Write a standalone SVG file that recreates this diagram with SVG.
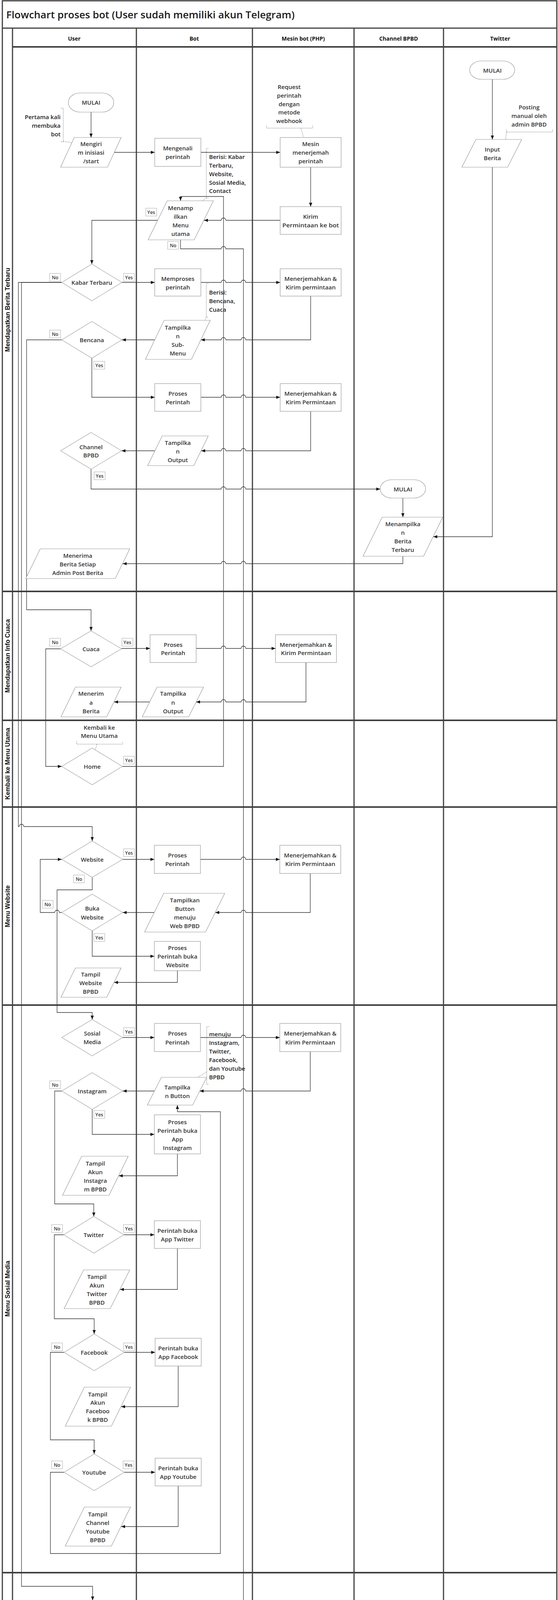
<svg xmlns="http://www.w3.org/2000/svg" width="1428" height="4695" viewBox="0 0 1428 4695">
<style>
.lane{fill:none;stroke:#404040;stroke-width:3}
.sep{fill:none;stroke:#404040;stroke-width:4}
.node{fill:#fff;stroke:#999;stroke-width:1.2}
.dia{fill:#fff;stroke:#a6a6a6;stroke-width:1.2}
.t{font-family:"Open Sans","Liberation Sans",sans-serif;font-weight:600;font-size:15px;fill:#333;text-anchor:middle;dominant-baseline:central}
.ta{font-family:"Open Sans","Liberation Sans",sans-serif;font-weight:600;font-size:15px;fill:#222;text-anchor:start;dominant-baseline:central}
.tr{font-family:"Open Sans","Liberation Sans",sans-serif;font-weight:600;font-size:15px;fill:#222;text-anchor:end;dominant-baseline:central}
.hd{font-family:"Open Sans","Liberation Sans",sans-serif;font-weight:700;font-size:14px;fill:#111;text-anchor:middle;dominant-baseline:central}
.lt{font-family:"Liberation Sans",Arial,sans-serif;font-weight:700;font-size:16px;fill:#111;text-anchor:middle;dominant-baseline:central}
.ann{fill:none;stroke:#555;stroke-width:1;stroke-dasharray:2 2}
.conn{fill:none;stroke:#333;stroke-width:1.3;marker-end:url(#arr)}
.lb{fill:#fff;stroke:#aaa;stroke-width:1}
.ls{font-family:"Open Sans","Liberation Sans",sans-serif;font-weight:600;font-size:12px;fill:#333;text-anchor:middle;dominant-baseline:central}
</style>
<defs>
<marker id="arr" markerUnits="userSpaceOnUse" markerWidth="11" markerHeight="9" refX="10" refY="4" orient="auto">
<path d="M0,0 L10,4 L0,8 z" fill="#111"/>
</marker>
</defs>
<rect x="0" y="0" width="1428" height="4695" fill="#fff"/>

<g id="swimlanes">
<rect class="lane" x="6" y="2" width="1419" height="4689"/>
<path class="lane" d="M6,72 H1425"/>
<path class="lane" d="M32,72 V4691 M349,72 V4691 M646,72 V4691 M906,72 V4691 M1135,72 V4691"/>
<path class="sep" d="M32,120 H1425 M6,1514 H1425 M6,1844 H1425 M6,2066 H1425 M6,2573 H1425 M6,4026 H1425 M6,4582 H1425"/>
<text x="16" y="47" font-family="'Open Sans','Liberation Sans',sans-serif" font-weight="600" font-size="26" fill="#1a1a1a">Flowchart proses bot (User sudah memiliki akun Telegram)</text>
<text class="hd" x="190" y="98">User</text>
<text class="hd" x="497" y="98">Bot</text>
<text class="hd" x="776" y="98">Mesin bot (PHP)</text>
<text class="hd" x="1020" y="98">Channel BPBD</text>
<text class="hd" x="1280" y="98">Twitter</text>
<text class="lt" transform="translate(19,793) rotate(-90)">Mendapatkan Berita Terbaru</text>
<text class="lt" transform="translate(19,1679) rotate(-90)">Mendapatkan Info Cuaca</text>
<text class="lt" transform="translate(19,1955) rotate(-90)">Kembali ke Menu Utama</text>
<text class="lt" transform="translate(19,2320) rotate(-90)">Menu Website</text>
<text class="lt" transform="translate(19,3299) rotate(-90)">Menu Sosial Media</text>
<text class="lt" transform="translate(19,4304) rotate(-90)">Menu Contact</text>
<text class="lt" transform="translate(19,4636) rotate(-90)">Selesai</text>
</g>

<g id="connectors">
<path class="conn" d="M233,287 V352"/>
<path class="conn" d="M292,390 H396"/>
<path class="conn" d="M514,390 H717"/>
<path class="conn" d="M795,428 V529"/>
<path class="conn" d="M717,564 H578 a6,6 0 0 0 -12,0 H522"/>
<path class="conn" d="M313,1962 H572 V503 H462 V514"/>
<path class="conn" d="M404,564 H235 V676"/>
<path class="conn" d="M462,614 V637 H566 a6,6 0 0 1 12,0 H623 V4631 H293"/>
<path class="conn" d="M312,723 H396"/>
<path class="conn" d="M514,723 H566 a6,6 0 0 1 12,0 H617 a6,6 0 0 1 12,0 H717"/>
<path class="conn" d="M795,758 V870 H629 a6,6 0 0 0 -12,0 H578 a6,6 0 0 0 -12,0 H514"/>
<path class="conn" d="M396,870 H312"/>
<path class="conn" d="M235,917 V1017 H396"/>
<path class="conn" d="M514,1017 H566 a6,6 0 0 1 12,0 H617 a6,6 0 0 1 12,0 H717"/>
<path class="conn" d="M795,1053 V1154 H629 a6,6 0 0 0 -12,0 H578 a6,6 0 0 0 -12,0 H515"/>
<path class="conn" d="M397,1154 H311"/>
<path class="conn" d="M233,1201 V1252 H566 a6,6 0 0 1 12,0 H617 a6,6 0 0 1 12,0 H973"/>
<path class="conn" d="M1031,1275 V1324"/>
<path class="conn" d="M1260,203 V357"/>
<path class="conn" d="M1260,428 V1374 H1109"/>
<path class="conn" d="M1031,1424 V1443 H629 a6,6 0 0 0 -12,0 H578 a6,6 0 0 0 -12,0 H314"/>
<path class="conn" d="M158,870 H68 V1561 H233 V1615"/>
<path class="conn" d="M158,723 H47 V2116 H49 a6,6 0 0 1 12,0 H236 V2153"/>
<path class="conn" d="M158,723 H55 V4061 H237 V4097"/>
<path class="conn" d="M311,1660 H384"/>
<path class="conn" d="M502,1660 H566 a6,6 0 0 1 12,0 H617 a6,6 0 0 1 12,0 H705"/>
<path class="conn" d="M783,1696 V1797 H629 a6,6 0 0 0 -12,0 H578 a6,6 0 0 0 -12,0 H502"/>
<path class="conn" d="M384,1797 H292"/>
<path class="conn" d="M155,1661 H117 V1962 H158"/>
<path class="conn" d="M314,2200 H395"/>
<path class="conn" d="M513,2200 H617 a6,6 0 0 1 12,0 H716"/>
<path class="conn" d="M794,2236 V2336 H629 a6,6 0 0 0 -12,0 H551"/>
<path class="conn" d="M395,2336 H314"/>
<path class="conn" d="M236,2383 V2448 H395"/>
<path class="conn" d="M454,2485 V2515 H292"/>
<path class="conn" d="M158,2336 H152 a6,6 0 0 0 -12,0 H103 V2200 H158"/>
<path class="conn" d="M236,2246 V2278 H146 V2592 H236 V2610"/>
<path class="conn" d="M314,2656 H395"/>
<path class="conn" d="M513,2656 H617 a6,6 0 0 1 12,0 H716"/>
<path class="conn" d="M794,2692 V2793 H629 a6,6 0 0 0 -12,0 H511"/>
<path class="conn" d="M395,2793 H314"/>
<path class="conn" d="M236,2840 V2904 H395"/>
<path class="conn" d="M454,2954 V3010 H304"/>
<path class="conn" d="M158,2793 H140 V3082 H240 V3114"/>
<path class="conn" d="M317,3161 H395"/>
<path class="conn" d="M454,3196 V3301 H307"/>
<path class="conn" d="M163,3161 H139 V3376 H241 V3415"/>
<path class="conn" d="M318,3462 H397"/>
<path class="conn" d="M456,3497 V3601 H310"/>
<path class="conn" d="M164,3462 H129 V3686 H241 V3722"/>
<path class="conn" d="M318,3769 H397"/>
<path class="conn" d="M456,3804 V3908 H310"/>
<path class="conn" d="M164,3769 H129 V3977 H564 V2846 H454 V2829"/>
<path class="conn" d="M314,4143 H396"/>
<path class="conn" d="M514,4143 H617 a6,6 0 0 1 12,0 H717"/>
<path class="conn" d="M795,4179 V4281 H629 a6,6 0 0 0 -12,0 H512"/>
<path class="conn" d="M396,4281 H314"/>
<path class="conn" d="M237,4328 V4376 H396"/>
<path class="conn" d="M455,4426 V4482 H305"/>
</g>

<g id="annotations">
<path class="ann" d="M156,277 H162 V363 H156 M162,362 L189,366"/>
<text class="tr" x="155" y="299">Pertama kali</text>
<text class="tr" x="155" y="321">membuka</text>
<text class="tr" x="155" y="343">bot</text>
<path class="ann" d="M682,322 V328 H800 V322 M770,328 L777,352"/>
<text class="t" x="740" y="222" fill="#222">Request</text>
<text class="t" x="740" y="244">perintah</text>
<text class="t" x="740" y="266">dengan</text>
<text class="t" x="740" y="287">metode</text>
<text class="t" x="740" y="309">webhook</text>
<path class="ann" d="M533,380 H528 V507 H533 M528,507 L514,516"/>
<text class="ta" x="535" y="401">Berisi: Kabar</text>
<text class="ta" x="535" y="423">Terbaru,</text>
<text class="ta" x="535" y="445">Website,</text>
<text class="ta" x="535" y="467">Sosial Media,</text>
<text class="ta" x="535" y="488">Contact</text>
<path class="ann" d="M533,726 H528 V812 H533 M528,812 L523,821"/>
<text class="ta" x="535" y="748">Berisi:</text>
<text class="ta" x="535" y="770">Bencana,</text>
<text class="ta" x="535" y="792">Cuaca</text>
<path class="ann" d="M1296,332 V338 H1414 V332 M1296,338 L1294,357"/>
<text class="t" x="1354" y="274">Posting</text>
<text class="t" x="1354" y="296">manual oleh</text>
<text class="t" x="1354" y="318">admin BPBD</text>
<path class="ann" d="M196,1898 V1905 H314 V1898 M248,1905 L244,1920"/>
<text class="t" x="254" y="1862">Kembali ke</text>
<text class="t" x="254" y="1883">Menu Utama</text>
<path class="ann" d="M535,2628 H529 V2776 H535 M529,2744 L506,2758"/>
<text class="ta" x="535" y="2647">menuju</text>
<text class="ta" x="535" y="2669">Instagram,</text>
<text class="ta" x="535" y="2691">Twitter,</text>
<text class="ta" x="535" y="2713">Facebook,</text>
<text class="ta" x="535" y="2735">dan Youtube</text>
<text class="ta" x="535" y="2757">BPBD</text>
<path class="ann" d="M537,4135 H530 V4242 H537 M530,4242 L509,4246"/>
<text class="ta" x="537" y="4156">Menuju</text>
<text class="ta" x="537" y="4178">Kontak Resmi</text>
<text class="ta" x="537" y="4200">Whatsapp</text>
<text class="ta" x="537" y="4222">BPBD</text>
</g>

<g id="labels">
<rect class="lb" x="373" y="533" width="28" height="20"/><text class="ls" x="387" y="543">Yes</text>
<rect class="lb" x="429" y="618" width="28" height="20"/><text class="ls" x="443" y="628">No</text>
<rect class="lb" x="127" y="700" width="28" height="20"/><text class="ls" x="141" y="710">No</text>
<rect class="lb" x="316" y="700" width="28" height="20"/><text class="ls" x="330" y="710">Yes</text>
<rect class="lb" x="127" y="845" width="28" height="20"/><text class="ls" x="141" y="855">No</text>
<rect class="lb" x="240" y="925" width="28" height="20"/><text class="ls" x="254" y="935">Yes</text>
<rect class="lb" x="241" y="1208" width="28" height="20"/><text class="ls" x="255" y="1218">Yes</text>
<rect class="lb" x="127" y="1634" width="28" height="20"/><text class="ls" x="141" y="1644">No</text>
<rect class="lb" x="312" y="1634" width="28" height="20"/><text class="ls" x="326" y="1644">Yes</text>
<rect class="lb" x="316" y="1936" width="28" height="20"/><text class="ls" x="330" y="1946">Yes</text>
<rect class="lb" x="316" y="2173" width="28" height="20"/><text class="ls" x="330" y="2183">Yes</text>
<rect class="lb" x="188" y="2240" width="28" height="20"/><text class="ls" x="202" y="2250">No</text>
<rect class="lb" x="108" y="2305" width="28" height="20"/><text class="ls" x="122" y="2315">No</text>
<rect class="lb" x="240" y="2390" width="28" height="20"/><text class="ls" x="254" y="2400">Yes</text>
<rect class="lb" x="316" y="2631" width="28" height="20"/><text class="ls" x="330" y="2641">Yes</text>
<rect class="lb" x="127" y="2767" width="28" height="20"/><text class="ls" x="141" y="2777">No</text>
<rect class="lb" x="240" y="2843" width="28" height="20"/><text class="ls" x="254" y="2853">Yes</text>
<rect class="lb" x="132" y="3135" width="28" height="20"/><text class="ls" x="146" y="3145">No</text>
<rect class="lb" x="316" y="3135" width="28" height="20"/><text class="ls" x="330" y="3145">Yes</text>
<rect class="lb" x="132" y="3438" width="28" height="20"/><text class="ls" x="146" y="3448">No</text>
<rect class="lb" x="316" y="3438" width="28" height="20"/><text class="ls" x="330" y="3448">Yes</text>
<rect class="lb" x="132" y="3740" width="28" height="20"/><text class="ls" x="146" y="3750">No</text>
<rect class="lb" x="315" y="3740" width="28" height="20"/><text class="ls" x="329" y="3750">Yes</text>
<rect class="lb" x="312" y="4116" width="28" height="20"/><text class="ls" x="326" y="4126">Yes</text>
<rect class="lb" x="241" y="4332" width="28" height="20"/><text class="ls" x="255" y="4342">Yes</text>
</g>

<g id="u_mulai"><rect class="node" x="175" y="238" width="116" height="49" rx="30" ry="24"/><text class="t" x="233" y="262">MULAI</text></g>
<g id="u_start"><polygon class="node" points="190,352 310,352 275,428 155,428"/><text class="t" x="233" y="368">Mengiri</text><text class="t" x="233" y="390">m inisiasi</text><text class="t" x="233" y="412">/start</text></g>
<g id="b_kenali"><rect class="node" x="396" y="354" width="118" height="72"/><text class="t" x="455" y="379">Mengenali</text><text class="t" x="455" y="401">perintah</text></g>
<g id="m_terjemah1"><rect class="node" x="717" y="352" width="156" height="76"/><text class="t" x="795" y="368">Mesin</text><text class="t" x="795" y="390">menerjemah</text><text class="t" x="795" y="412">perintah</text></g>
<g id="m_kirim"><rect class="node" x="717" y="529" width="156" height="71"/><text class="t" x="795" y="554">Kirim</text><text class="t" x="795" y="576" textLength="145" lengthAdjust="spacingAndGlyphs">Permintaan ke bot</text></g>
<g id="b_menu"><polygon class="node" points="428,514 546,514 497,614 379,614"/><text class="t" x="462" y="532">Menamp</text><text class="t" x="462" y="554">ilkan</text><text class="t" x="462" y="576">Menu</text><text class="t" x="462" y="598">utama</text></g>
<g id="u_kabar"><polygon class="dia" points="235,676 312,723 235,770 158,723"/><text class="t" x="235" y="723">Kabar Terbaru</text></g>
<g id="b_memproses"><rect class="node" x="396" y="688" width="118" height="70"/><text class="t" x="455" y="713">Memproses</text><text class="t" x="455" y="735">perintah</text></g>
<g id="m_terj2"><rect class="node" x="717" y="688" width="156" height="70"/><text class="t" x="795" y="713">Menerjemahkan &amp;</text><text class="t" x="795" y="735">Kirim permintaan</text></g>
<g id="b_submenu"><polygon class="node" points="420,820 538,820 490,920 372,920"/><text class="t" x="455" y="838">Tampilka</text><text class="t" x="455" y="860">n</text><text class="t" x="455" y="882">Sub-</text><text class="t" x="455" y="904">Menu</text></g>
<g id="u_bencana"><polygon class="dia" points="235,823 312,870 235,917 158,870"/><text class="t" x="235" y="870">Bencana</text></g>
<g id="b_proses1"><rect class="node" x="396" y="982" width="118" height="71"/><text class="t" x="455" y="1007">Proses</text><text class="t" x="455" y="1029">Perintah</text></g>
<g id="m_terj3"><rect class="node" x="717" y="982" width="156" height="71"/><text class="t" x="795" y="1007">Menerjemahkan &amp;</text><text class="t" x="795" y="1029">Kirim Permintaan</text></g>
<g id="b_output1"><polygon class="node" points="415,1116 533,1116 496,1192 378,1192"/><text class="t" x="455" y="1133">Tampilka</text><text class="t" x="455" y="1155">n</text><text class="t" x="455" y="1177">Output</text></g>
<g id="u_channel"><polygon class="dia" points="233,1107 311,1154 233,1201 155,1154"/><text class="t" x="233" y="1144">Channel</text><text class="t" x="233" y="1165">BPBD</text></g>
<g id="c_mulai"><rect class="node" x="973" y="1228" width="116" height="47" rx="30" ry="23"/><text class="t" x="1031" y="1252">MULAI</text></g>
<g id="c_berita"><polygon class="node" points="978,1324 1133,1324 1084,1424 929,1424"/><text class="t" x="1031" y="1341">Menampilka</text><text class="t" x="1031" y="1363">n</text><text class="t" x="1031" y="1385">Berita</text><text class="t" x="1031" y="1407">Terbaru</text></g>
<g id="t_mulai"><rect class="node" x="1202" y="156" width="115" height="47" rx="30" ry="23"/><text class="t" x="1260" y="180">MULAI</text></g>
<g id="t_input"><polygon class="node" points="1218,357 1335,357 1299,428 1182,428"/><text class="t" x="1260" y="382">Input</text><text class="t" x="1260" y="404">Berita</text></g>
<g id="u_menerima"><polygon class="node" points="103,1405 332,1405 295,1481 66,1481"/><text class="t" x="199" y="1422">Menerima</text><text class="t" x="199" y="1444">Berita Setiap</text><text class="t" x="199" y="1466">Admin Post Berita</text></g>

<g id="u_cuaca"><polygon class="dia" points="233,1615 311,1661 233,1707 155,1661"/><text class="t" x="233" y="1661">Cuaca</text></g>
<g id="b_proses2"><rect class="node" x="384" y="1625" width="118" height="71"/><text class="t" x="443" y="1650">Proses</text><text class="t" x="443" y="1671">Perintah</text></g>
<g id="m_terj4"><rect class="node" x="705" y="1625" width="156" height="71"/><text class="t" x="783" y="1650">Menerjemahkan &amp;</text><text class="t" x="783" y="1671">Kirim Permintaan</text></g>
<g id="b_output2"><polygon class="node" points="402,1759 521,1759 483,1835 364,1835"/><text class="t" x="443" y="1775">Tampilka</text><text class="t" x="443" y="1798">n</text><text class="t" x="443" y="1820">Output</text></g>
<g id="u_menerima2"><polygon class="node" points="193,1759 310,1759 273,1835 156,1835"/><text class="t" x="233" y="1775">Menerim</text><text class="t" x="233" y="1798">a</text><text class="t" x="233" y="1820">Berita</text></g>

<g id="u_home"><polygon class="dia" points="236,1915 313,1962 236,2009 158,1962"/><text class="t" x="236" y="1962">Home</text></g>

<g id="u_website"><polygon class="dia" points="236,2153 314,2200 236,2246 158,2200"/><text class="t" x="236" y="2200">Website</text></g>
<g id="b_proses3"><rect class="node" x="395" y="2164" width="118" height="72"/><text class="t" x="454" y="2189">Proses</text><text class="t" x="454" y="2211">Perintah</text></g>
<g id="m_terj5"><rect class="node" x="716" y="2164" width="156" height="72"/><text class="t" x="794" y="2189">Menerjemahkan &amp;</text><text class="t" x="794" y="2211">Kirim Permintaan</text></g>
<g id="b_btnweb"><polygon class="node" points="419,2287 575,2287 526,2386 370,2386"/><text class="t" x="473" y="2304">Tampilkan</text><text class="t" x="473" y="2326">Button</text><text class="t" x="473" y="2348">menuju</text><text class="t" x="473" y="2370">Web BPBD</text></g>
<g id="u_buka"><polygon class="dia" points="236,2289 314,2336 236,2383 158,2336"/><text class="t" x="236" y="2325">Buka</text><text class="t" x="236" y="2348">Website</text></g>
<g id="b_bukaweb"><rect class="node" x="395" y="2410" width="118" height="75"/><text class="t" x="454" y="2426">Proses</text><text class="t" x="454" y="2448">Perintah buka</text><text class="t" x="454" y="2470">Website</text></g>
<g id="u_tampilweb"><polygon class="node" points="193,2478 310,2478 273,2553 156,2553"/><text class="t" x="232" y="2494">Tampil</text><text class="t" x="232" y="2516">Website</text><text class="t" x="232" y="2538">BPBD</text></g>

<g id="u_sosmed"><polygon class="dia" points="236,2610 314,2656 236,2703 158,2656"/><text class="t" x="236" y="2645">Sosial</text><text class="t" x="236" y="2667">Media</text></g>
<g id="b_proses4"><rect class="node" x="395" y="2620" width="118" height="72"/><text class="t" x="454" y="2645">Proses</text><text class="t" x="454" y="2668">Perintah</text></g>
<g id="m_terj6"><rect class="node" x="716" y="2620" width="156" height="72"/><text class="t" x="794" y="2645">Menerjemahkan &amp;</text><text class="t" x="794" y="2668">Kirim Permintaan</text></g>
<g id="b_btnsos"><polygon class="node" points="413,2758 529,2758 493,2829 377,2829"/><text class="t" x="454" y="2783">Tampilka</text><text class="t" x="454" y="2805">n Button</text></g>
<g id="u_instagram"><polygon class="dia" points="236,2746 314,2793 236,2840 158,2793"/><text class="t" x="236" y="2793">Instagram</text></g>
<g id="b_ig"><rect class="node" x="395" y="2854" width="118" height="100"/><text class="t" x="454" y="2872">Proses</text><text class="t" x="454" y="2894">Perintah buka</text><text class="t" x="454" y="2916">App</text><text class="t" x="454" y="2938">Instagram</text></g>
<g id="u_tampil_ig"><polygon class="node" points="209,2960 328,2960 279,3060 160,3060"/><text class="t" x="244" y="2978">Tampil</text><text class="t" x="244" y="3000">Akun</text><text class="t" x="244" y="3022">Instagra</text><text class="t" x="244" y="3044">m BPBD</text></g>
<g id="u_twitter"><polygon class="dia" points="240,3114 317,3161 240,3208 163,3161"/><text class="t" x="240" y="3161">Twitter</text></g>
<g id="b_tw"><rect class="node" x="395" y="3125" width="118" height="71"/><text class="t" x="454" y="3150">Perintah buka</text><text class="t" x="454" y="3172">App Twitter</text></g>
<g id="u_tampil_tw"><polygon class="node" points="214,3251 332,3251 282,3350 164,3350"/><text class="t" x="248" y="3268">Tampil</text><text class="t" x="248" y="3290">Akun</text><text class="t" x="248" y="3312">Twitter</text><text class="t" x="248" y="3334">BPBD</text></g>
<g id="u_facebook"><polygon class="dia" points="241,3415 318,3462 241,3509 164,3462"/><text class="t" x="241" y="3462">Facebook</text></g>
<g id="b_fb"><rect class="node" x="397" y="3426" width="118" height="71"/><text class="t" x="456" y="3451">Perintah buka</text><text class="t" x="456" y="3473">App Facebook</text></g>
<g id="u_tampil_fb"><polygon class="node" points="216,3551 334,3551 285,3651 167,3651"/><text class="t" x="250" y="3569">Tampil</text><text class="t" x="250" y="3590">Akun</text><text class="t" x="250" y="3612">Faceboo</text><text class="t" x="250" y="3634">k BPBD</text></g>
<g id="u_youtube"><polygon class="dia" points="241,3722 318,3769 241,3816 164,3769"/><text class="t" x="241" y="3769">Youtube</text></g>
<g id="b_yt"><rect class="node" x="397" y="3733" width="118" height="71"/><text class="t" x="456" y="3758">Perintah buka</text><text class="t" x="456" y="3780">App Youtube</text></g>
<g id="u_tampil_yt"><polygon class="node" points="216,3858 334,3858 285,3958 167,3958"/><text class="t" x="250" y="3876">Tampil</text><text class="t" x="250" y="3898">Channel</text><text class="t" x="250" y="3920">Youtube</text><text class="t" x="250" y="3942">BPBD</text></g>

<g id="u_contact"><polygon class="dia" points="237,4097 314,4143 237,4190 160,4143"/><text class="t" x="237" y="4143">Contact</text></g>
<g id="b_proses5"><rect class="node" x="396" y="4108" width="118" height="71"/><text class="t" x="455" y="4133">Proses</text><text class="t" x="455" y="4155">Perintah</text></g>
<g id="m_terj7"><rect class="node" x="717" y="4108" width="156" height="71"/><text class="t" x="795" y="4133">Menerjemahkan &amp;</text><text class="t" x="795" y="4155">Kirim Permintaan</text></g>
<g id="b_btnwa"><polygon class="node" points="415,4245 531,4245 494,4316 378,4316"/><text class="t" x="455" y="4270">Tampilka</text><text class="t" x="455" y="4292">n Button</text></g>
<g id="u_whatsapp"><polygon class="dia" points="237,4234 314,4281 237,4328 160,4281"/><text class="t" x="237" y="4281">Whatsapp</text></g>
<g id="b_wa"><rect class="node" x="396" y="4326" width="118" height="100"/><text class="t" x="455" y="4343">Proses</text><text class="t" x="455" y="4365">Perintah buka</text><text class="t" x="455" y="4387">App</text><text class="t" x="455" y="4409">Whatsapp</text></g>
<g id="u_jendela"><polygon class="node" points="183,4411 340,4411 270,4553 113,4553"/><text class="t" x="226" y="4428">Tampil</text><text class="t" x="226" y="4450">Jendela</text><text class="t" x="226" y="4472">Percakapan</text><text class="t" x="226" y="4494">dengan</text><text class="t" x="226" y="4515">Kontak</text><text class="t" x="226" y="4537">BPBD</text></g>

<g id="u_selesai"><rect class="node" x="174" y="4608" width="117" height="47" rx="30" ry="23"/><text class="t" x="233" y="4631">SELESAI</text></g>
</svg>
